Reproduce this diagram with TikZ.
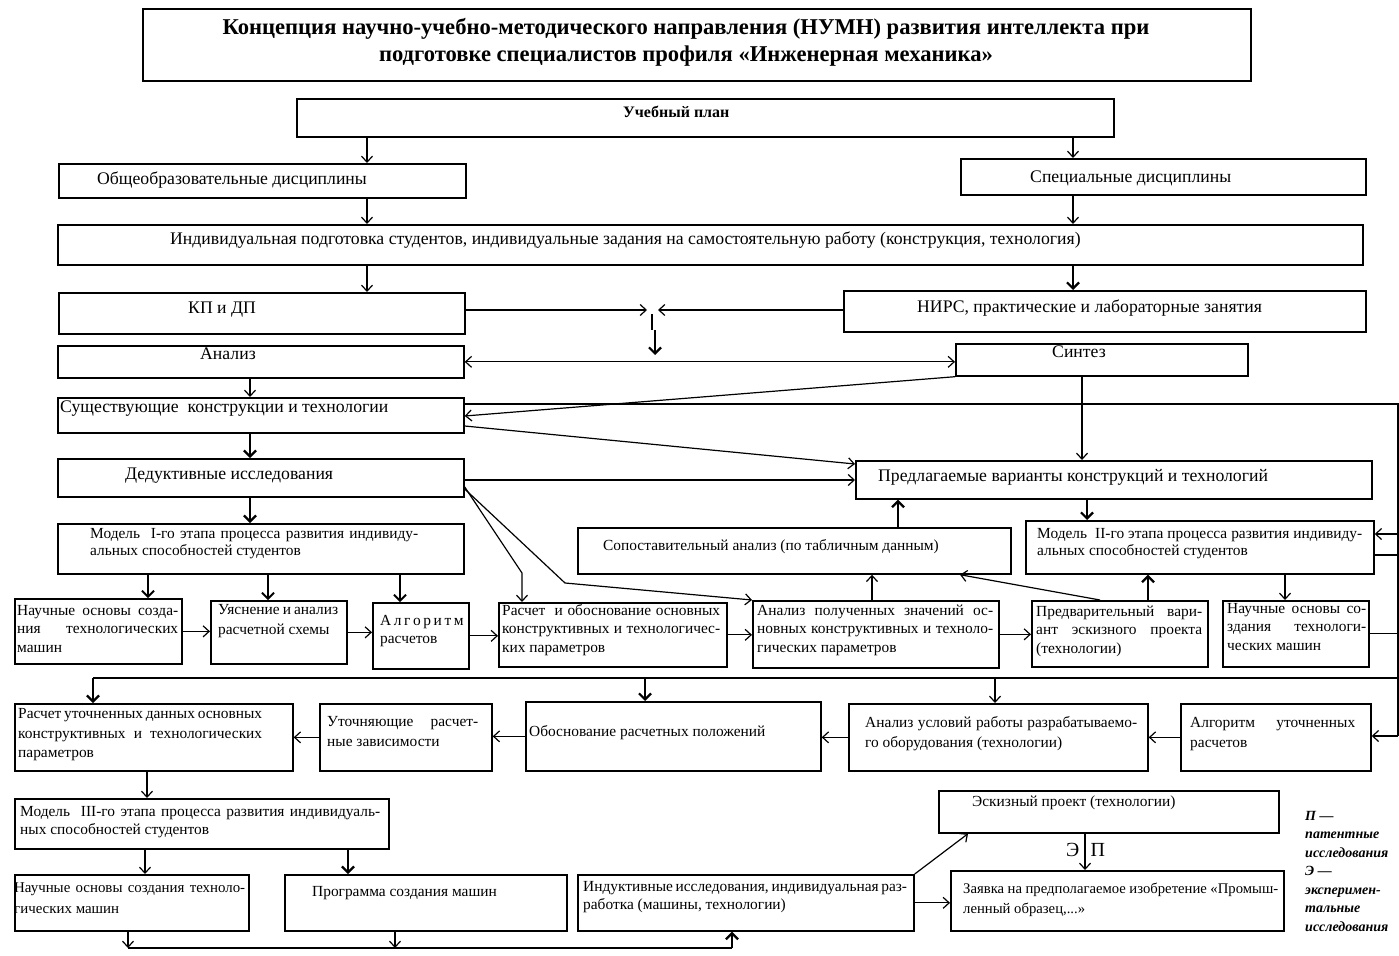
\documentclass[tikz,border=0pt]{standalone}
\usepackage{fontspec}
\setmainfont{Liberation Serif}
\usetikzlibrary{arrows.meta,calc}

\newcommand\sm{\fontsize{15.4}{18.5}\selectfont}
\newcommand\sml{\fontsize{15.4}{17}\selectfont}
\newcommand\bg{\fontsize{17.7}{21}\selectfont}
\newcommand\jl[2]{\makebox[#1pt][s]{#2}}
\newcommand\lsp{\kern2.6pt}

% frame: name, x1, y1, x2, y2, extra options
\newcommand\bx[6]{%
  \pgfmathsetmacro\bxw{#4-#2}\pgfmathsetmacro\bxh{#5-#3}%
  \node[boxf,minimum width=\bxw pt,minimum height=\bxh pt,anchor=north west,#6] (#1) at (#2,#3) {};}
% text: name, x, y, options, text
\newcommand\tx[5]{\node[txt,anchor=west,#4] (#1) at (#2,#3) {#5};}

\tikzset{
  boxf/.style={draw,line width=1.7pt,inner sep=0pt},
  txt/.style={inner sep=0pt,align=left,font=\sm},
  ln/.style={line width=1.2pt},
  arr/.style={ln,-{Straight Barb[length=6pt,width=11pt,line width=1.2pt]}},
  arrb/.style={ln,{Straight Barb[length=6pt,width=11pt,line width=1.2pt]}-{Straight Barb[length=6pt,width=11pt,line width=1.2pt]}},
  med/.style={line width=1.8pt,-{Straight Barb[length=6pt,width=12pt,line width=1.8pt]}},
  thk/.style={line width=2.6pt,-{Straight Barb[length=6pt,width=12pt,line width=2.2pt]}},
}

\begin{document}
\begin{tikzpicture}[x=1pt,y=-1pt]
\useasboundingbox (0,0) rectangle (1399,955);

% boxes
\bx{title}{142}{8}{1250}{80}{}
\bx{plan}{296}{98}{1113}{136}{}
\bx{ob}{58}{163}{465}{197}{}
\bx{sp}{960}{158}{1365}{194}{}
\bx{ind}{57}{224}{1362}{264}{}
\bx{kp}{58}{292}{464}{333}{}
\bx{nirs}{843}{290}{1365}{331}{}
\bx{an}{57}{345}{463}{377}{}
\bx{sin}{955}{343}{1247}{375}{}
\bx{sus}{57}{397}{463}{432}{}
\bx{ded}{57}{458}{463}{496}{}
\bx{pred}{855}{460}{1371}{498}{}
\bx{mI}{57}{523}{463}{573}{}
\bx{sop}{577}{527}{1010}{573}{}
\bx{mII}{1025}{520}{1373}{573}{}
\bx{nI}{14}{598}{181}{663}{}
\bx{uI}{210}{600}{346}{663}{}
\bx{alg}{372}{602}{468}{668}{}
\bx{ras}{498}{602}{726}{666}{}
\bx{anp}{752}{600}{998}{667}{}
\bx{prv}{1031}{600}{1207}{666}{}
\bx{nII}{1222}{600}{1368}{666}{}
\bx{rut}{14}{703}{292}{770}{}
\bx{utz}{319}{703}{491}{770}{}
\bx{obos}{525}{701}{820}{770}{}
\bx{anu}{848}{703}{1147}{770}{}
\bx{alu}{1180}{703}{1370}{770}{}
\bx{mIII}{14}{798}{388}{848}{}
\bx{nIII}{14}{874}{248}{930}{}
\bx{prog}{284}{874}{566}{930}{}
\bx{indk}{577}{874}{913}{930}{}
\bx{esk}{938}{790}{1278}{832}{}
\bx{zay}{950}{870}{1283}{930}{}

% texts
\tx{titlet}{686}{42}{anchor=center,align=center,font=\bfseries\fontsize{22.6}{27}\selectfont}{Концепция научно-учебно-методического направления (НУМН) развития интеллекта при\\подготовке специалистов профиля «Инженерная механика»}
\tx{plant}{623}{112}{font=\bfseries\fontsize{16}{19}\selectfont}{Учебный план}
\tx{obt}{97}{180}{font=\bg}{Общеобразовательные дисциплины}
\tx{spt}{1030}{178}{font=\bg}{Специальные дисциплины}
\tx{indt}{170}{240}{font=\bg}{Индивидуальная подготовка студентов, индивидуальные задания на самостоятельную работу (конструкция, технология)}
\tx{kpt}{188}{310}{font=\bg}{КП и ДП}
\tx{nirst}{917}{308}{font=\bg}{НИРС, практические и лабораторные занятия}
\tx{ant}{200}{354}{font=\bg}{Анализ}
\tx{sint}{1052}{352}{font=\bg}{Синтез}
\tx{sust}{60}{409}{font=\bg}{Существующие\ \ конструкции и технологии}
\tx{dedt}{125}{476}{font=\bg}{Дедуктивные исследования}
\tx{predt}{878}{477}{font=\bg}{Предлагаемые варианты конструкций и технологий}
\tx{mIt}{90}{544}{font=\sml}{\jl{328}{Модель\ \ I-го этапа процесса развития индивиду-}\\альных способностей студентов}
\tx{sopt}{603}{547}{}{Сопоставительный анализ (по табличным данным)}
\tx{mIIt}{1037}{544}{font=\sml}{\jl{325}{Модель\ \ II-го этапа процесса развития индивиду-}\\альных способностей студентов}
\tx{nIt}{17}{629}{}{\jl{161}{Научные основы созда-}\\\jl{161}{ния технологических}\\машин}
\tx{uIt}{218}{621}{font=\fontsize{15.4}{20}\selectfont}{\jl{120}{Уяснение и анализ}\\расчетной схемы}
\tx{algt}{380}{631}{}{А\lsp л\lsp г\lsp о\lsp р\lsp и\lsp т\lsp м\\расчетов}
\tx{rast}{502}{630}{}{\jl{218}{Расчет\ \ и обоснование основных}\\\jl{218}{конструктивных и технологичес-}\\ких параметров}
\tx{anpt}{757}{630}{}{\jl{236}{Анализ полученных значений ос-}\\\jl{236}{новных конструктивных и техноло-}\\гических параметров}
\tx{prvt}{1036}{631}{}{\jl{166}{Предварительный вари-}\\\jl{166}{ант эскизного проекта}\\(технологии)}
\tx{nIIt}{1227}{627}{}{\jl{139}{Научные основы со-}\\\jl{139}{здания технологи-}\\ческих машин}
\tx{rutt}{18}{735}{font=\fontsize{15.4}{19.5}\selectfont}{\jl{244}{Расчет уточненных данных основных}\\\jl{244}{конструктивных и технологических}\\параметров}
\tx{utzt}{327}{732}{font=\fontsize{15.4}{20}\selectfont}{\jl{151}{Уточняющие расчет-}\\ные зависимости}
\tx{obost}{529}{733}{}{Обоснование расчетных положений}
\tx{anut}{865}{734}{font=\fontsize{15.4}{20}\selectfont}{\jl{272}{Анализ условий работы разрабатываемо-}\\го оборудования (технологии)}
\tx{alut}{1190}{734}{font=\fontsize{15.4}{20}\selectfont}{\jl{165}{Алгоритм уточненных}\\расчетов}
\tx{mIIIt}{20}{822}{}{\jl{360}{Модель\ \ III-го этапа процесса развития индивидуаль-}\\ных способностей студентов}
\tx{nIIIt}{14}{898}{font=\fontsize{14.9}{21}\selectfont}{\jl{231}{Научные основы создания техноло-}\\гических машин}
\tx{progt}{312}{893}{}{Программа создания машин}
\tx{indkt}{583}{897}{}{\jl{323}{Индуктивные исследования, индивидуальная раз-}\\работка (машины, технологии)}
\tx{eskt}{972}{803}{}{Эскизный проект (технологии)}
\tx{zayt}{963}{900}{font=\fontsize{14.7}{20}\selectfont}{\jl{315}{Заявка на предполагаемое изобретение «Промыш-}\\ленный образец,...»}
\node[txt,anchor=north west,font=\bfseries\itshape\fontsize{14}{18.5}\selectfont] (leg) at (1305,811)
  {П —\\патентные\\исследования\\Э —\\эксперимен-\\тальные\\исследования};

% junctions and buses
\coordinate (jx) at (652,310);
\coordinate (jd) at (655,330);
\coordinate (je) at (655,355);
\coordinate (rT) at (1398,404);
\coordinate (rB) at (1398,736);
\coordinate (bar) at (93,678);
\coordinate (bb) at (128,948);
\coordinate (be) at (732,948);

% connectors
\draw[arr] (plan.south -| 367,0) -- (ob.north -| 367,0);
\draw[arr] (plan.south -| 1073,0) -- (sp.north -| 1073,0);
\draw[arr] (ob.south -| 367,0) -- (ind.north -| 367,0);
\draw[arr] (sp.south -| 1073,0) -- (ind.north -| 1073,0);
\draw[arr] (ind.south -| 367,0) -- (kp.north -| 367,0);
\draw[thk] (ind.south -| 1073,0) -- (nirs.north -| 1073,0);
\draw[arr] (kp.east |- jx) -- ([xshift=-5pt]jx);
\draw[arr] (nirs.west |- jx) -- ([xshift=6pt]jx);
\draw[ln] ([yshift=-4pt]jx) -- (jx |- jd);
\draw[thk] (jd) -- (je);
\draw[arrb] (an.east) -- (sin.west |- an.east);
\draw[arr] (an.south -| 250,0) -- (sus.north -| 250,0);
\draw[arr] (sin.south west) -- (sus.east |- 0,416);
\draw[ln] (sus.east |- rT) -- (rT) -- (rB);
\draw[arr] (sus.east |- 0,426) -- (pred.west |- 0,464);
\draw[arr] (sin.south -| 1082,0) -- (pred.north -| 1082,0);
\draw[thk] (sus.south -| 250,0) -- (ded.north -| 250,0);
\draw[arr] (ded.east |- 0,480) -- (pred.west |- 0,480);
\draw[arr] (ded.east |- 0,487) -- (522,573) -- (ras.north -| 522,0);
\draw[arr] (ded.east |- 0,489) -- (565,583) -- (anp.north west);
\draw[thk] (ded.south -| 250,0) -- (mI.north -| 250,0);
\draw[thk] (sop.north -| 898,0) -- (pred.south -| 898,0);
\draw[thk] (pred.south -| 1087,0) -- (mII.north -| 1087,0);
\draw[arr] (rT |- 0,534) -- (mII.east |- 0,534);
\draw[ln] (mII.east |- 0,555) -- (rT |- 0,555);
\draw[med] (mI.south -| 148,0) -- (nI.north -| 148,0);
\draw[med] (mI.south -| 268,0) -- (uI.north -| 268,0);
\draw[med] (mI.south -| 400,0) -- (alg.north -| 400,0);
\draw[arr] (nI.east) -- (uI.west |- nI.east);
\draw[arr] (uI.east) -- (alg.west |- uI.east);
\draw[arr] (alg.east) -- (ras.west |- alg.east);
\draw[arr] (ras.east) -- (anp.west |- ras.east);
\draw[arr] (anp.east) -- (prv.west |- anp.east);
\draw[arr] (anp.north -| 872,0) -- (sop.south -| 872,0);
\draw[arr] (prv.north -| 1100,0) -- (sop.south -| 960,0);
\draw[thk] (prv.north -| 1148,0) -- (mII.south -| 1148,0);
\draw[arr] (mII.south -| 1285,0) -- (nII.north -| 1285,0);
\draw[ln] (nII.east) -- (rT |- nII.east);
\draw[ln] (bar) -- (rT |- bar);
\draw[thk] (bar) -- (rut.north -| bar);
\draw[thk] (bar -| 645,0) -- (obos.north -| 645,0);
\draw[arr] (bar -| 995,0) -- (anu.north -| 995,0);
\draw[arr] (rB) -- (alu.east |- rB);
\draw[arr] (alu.west) -- (anu.east |- alu.west);
\draw[arr] (anu.west) -- (obos.east |- anu.west);
\draw[arr] (obos.west) -- (utz.east |- obos.west);
\draw[arr] (utz.west) -- (rut.east |- utz.west);
\draw[arr] (rut.south -| 147,0) -- (mIII.north -| 147,0);
\draw[arr] (mIII.south -| 145,0) -- (nIII.north -| 145,0);
\draw[thk] (mIII.south -| 348,0) -- (prog.north -| 348,0);
\draw[arr] (indk.east) -- (zay.west |- indk.east);
\draw[arr] (indk.north east) -- (esk.south -| 968,0);
\draw[arr] (esk.south -| 1085,0) --
  node[pos=0.45,left=5pt,font=\fontsize{20}{24}\selectfont,inner sep=0pt] (lblE) {Э}
  node[pos=0.45,right=5pt,font=\fontsize{20}{24}\selectfont,inner sep=0pt] (lblP) {П}
  (zay.north -| 1085,0);
\draw[arr] (nIII.south -| bb) -- (bb);
\draw[arr] (prog.south -| 395,0) -- (bb -| 395,0);
\draw[ln] (bb) -- (be);
\draw[thk] (be) -- (indk.south -| be);
\end{tikzpicture}
\end{document}
